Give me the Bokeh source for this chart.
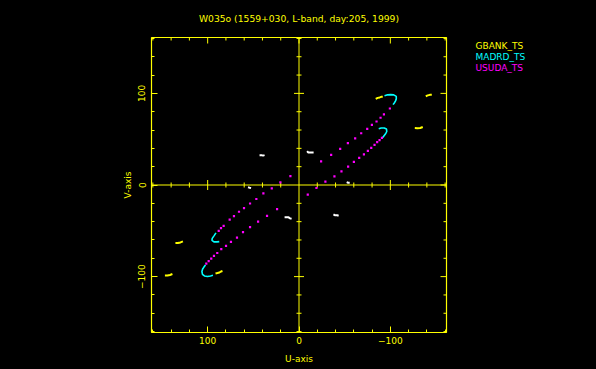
from math import pi
from bokeh.plotting import figure
from bokeh.layouts import row
from bokeh.models import (Range1d, FixedTicker, LinearAxis, Span,
                          GlobalInlineStyleSheet)
from bokeh.core.properties import value
from bokeh.embed import file_html
from bokeh.resources import INLINE

# ---------------- data ----------------
title_text = "W035o (1559+030, L-band, day:205, 1999)"
series_names = ["GBANK_TS", "MADRD_TS", "USUDA_TS"]
series_colors = ["#ffff00", "#00ffff", "#ff00ff"]
other_color = "#ffffff"

u_limit = 161.5
v_limit = 161.0
major_ticks = [-100, 0, 100]
minor_ticks = [-160, -140, -120, -80, -60, -40, -20, 20, 40, 60, 80, 120, 140, 160]
tick_labels = {100: "100", 0: "0", -100: "\u2212100"}

# USUDA_TS (magenta points)
usuda_u = [-99.5, -93.0, -89.3, -84.9, -79.8, -74.7, -68.1, -61.5, -53.5, -45.1, -35.2, -24.2,
           24.0, 35.0, 44.8, 53.6, 61.3, 67.9, 74.5, 79.9, 85.1, 89.5, 93.1, 96.1, 98.9, 101.5,
           -9.6, -19.1, -28.9, -38.8, -46.5, -53.8, -60.1, -65.9, -71.1, -75.4, -79.1, -82.7,
           -85.6, -88.2, -90.8,
           9.4, 20.4, 29.8, 39.0, 46.7, 53.6, 60.2, 65.7, 71.2, 75.9, 82.5, 85.4, 87.9]
usuda_v = [83.5, 77.0, 73.4, 69.3, 65.7, 61.3, 56.5, 51.0, 45.6, 39.4, 32.9, 25.8,
           -26.3, -33.6, -39.9, -46.0, -51.5, -57.4, -62.1, -66.5, -70.1, -74.2, -77.4, -80.4,
           -83.2, -85.9,
           -10.6, -3.3, 3.6, 9.4, 14.9, 20.0, 25.2, 29.6, 33.5, 37.2, 40.5, 43.8, 46.7, 48.9, 51.5,
           9.6, 2.8, -3.7, -9.2, -15.3, -20.2, -25.2, -29.2, -34.0, -37.7, -44.6, -47.1, -50.1]

# MADRD_TS (cyan tracks)
madrd_u = [[-93.6, -97.1, -100.4, -103.7, -106.5, -106.5, -105.7, -104.5, -103.0],
           [94.2, 96.9, 100.2, 103.5, 105.7, 106.3, 105.5, 104.1, 102.4],
           [-87.3, -90.0, -93.3, -95.8, -96.1, -95.0, -93.3, -91.7],
           [87.3, 89.8, 93.1, 95.3, 95.0, 93.1, 90.9]]
madrd_v = [[97.3, 98.4, 98.6, 98.4, 96.7, 94.0, 91.8, 89.8, 87.7],
           [-98.6, -99.3, -99.9, -99.3, -97.5, -94.4, -91.7, -89.6, -87.3],
           [61.3, 62.2, 62.2, 61.1, 58.4, 56.2, 54.0, 51.8],
           [-61.8, -62.1, -62.1, -60.5, -58.3, -55.5, -52.2]]

# GBANK_TS (yellow tracks)
gbank_u = [[-84.0, -86.2, -88.4, -90.0, -91.7],
           [-138.8, -141.0, -143.2, -145.4],
           [-126.8, -129.5, -132.8, -135.5],
           [91.4, 89.3, 87.1, 85.4, 83.8],
           [146.8, 144.1, 141.3, 138.6],
           [135.3, 132.6, 129.8, 127.1]]
gbank_v = [[94.0, 95.1, 95.6, 96.2, 96.2],
           [96.9, 97.8, 98.4, 98.4],
           [62.2, 62.0, 62.2, 63.3],
           [-96.6, -96.1, -95.5, -94.4, -93.9],
           [-98.8, -98.8, -98.2, -97.2],
           [-63.2, -63.2, -62.7, -61.6]]

# other baselines (white tracks, not in the key)
other_u = [[-8.9, -10.0, -12.2, -14.4, -16.0],
           [8.1, 9.8, 11.4, 13.6, 15.8],
           [43.2, 41.0, 39.4, 37.7],
           [-37.7, -39.6, -41.8, -43.4],
           [-52.2, -53.8, -55.5],
           [55.8, 54.2, 52.5]]
other_v = [[37.0, 35.6, 35.4, 35.4, 35.4],
           [-36.9, -36.4, -35.3, -35.3, -35.3],
           [32.6, 32.6, 32.1, 32.6],
           [-32.0, -33.1, -33.1, -33.6],
           [3.1, 2.5, 2.5],
           [-2.4, -2.9, -3.3]]

# ---------------- figure ----------------
YEL = "#ffff00"
BLK = "#000000"
FONT = "DejaVu Sans"
FS = "9px"

p = figure(width=460, height=369,
           x_range=Range1d(u_limit, -u_limit), y_range=Range1d(-v_limit, v_limit),
           x_axis_type=None, y_axis_type=None,
           output_backend="svg", toolbar_location=None,
           background_fill_color=BLK, border_fill_color=BLK,
           outline_line_color=YEL, outline_line_width=1.2,
           min_border_left=151, min_border_right=14,
           min_border_top=37, min_border_bottom=37)
p.stylesheets = [GlobalInlineStyleSheet(css="html, body { background-color: #000000; }")]

p.title.text = title_text
p.title.align = "center"
p.title.vertical_align = "top"
p.title.text_color = YEL
p.title.text_font = FONT
p.title.text_font_size = "9.2px"
p.title.text_font_style = "normal"
p.title.standoff = 24


def make_axis(label, orient, label_standoff, title_standoff):
    ax = LinearAxis(ticker=FixedTicker(ticks=major_ticks, minor_ticks=minor_ticks))
    ax.axis_line_color = None
    ax.major_tick_in = 6
    ax.major_tick_out = 0
    ax.minor_tick_in = 3
    ax.minor_tick_out = 0
    ax.major_tick_line_color = YEL
    ax.minor_tick_line_color = YEL
    ax.major_label_overrides = tick_labels
    ax.major_label_text_color = YEL
    ax.major_label_text_font = FONT
    ax.major_label_text_font_size = FS
    ax.major_label_orientation = orient
    ax.major_label_standoff = label_standoff
    ax.axis_label = label
    ax.axis_label_text_color = YEL
    ax.axis_label_text_font = FONT
    ax.axis_label_text_font_size = FS
    ax.axis_label_text_font_style = "normal"
    ax.axis_label_standoff = title_standoff
    return ax


p.add_layout(make_axis("U-axis", "horizontal", 4, 7), "below")
p.add_layout(make_axis("V-axis", "parallel", 6, 3), "left")

# ticks on the top and right edges of the box (half of each dash is clipped)
p.scatter(x=minor_ticks, y=[v_limit] * len(minor_ticks), marker="dash", angle=pi / 2,
          size=6, line_color=YEL)
p.scatter(x=major_ticks, y=[v_limit] * len(major_ticks), marker="dash", angle=pi / 2,
          size=12, line_color=YEL)
p.scatter(x=[-u_limit] * len(minor_ticks), y=minor_ticks, marker="dash",
          size=6, line_color=YEL)
p.scatter(x=[-u_limit] * len(major_ticks), y=major_ticks, marker="dash",
          size=12, line_color=YEL)

# zero lines with their ticks
p.add_layout(Span(location=0, dimension="height", line_color=YEL, line_width=1))
p.add_layout(Span(location=0, dimension="width", line_color=YEL, line_width=1))
zero_major = [t for t in major_ticks if t != 0]
p.scatter(x=[0] * len(minor_ticks), y=minor_ticks, marker="dash", size=5, line_color=YEL)
p.scatter(x=[0] * len(zero_major), y=zero_major, marker="dash", size=10, line_color=YEL)
p.scatter(x=minor_ticks, y=[0] * len(minor_ticks), marker="dash", angle=pi / 2, size=5,
          line_color=YEL)
p.scatter(x=zero_major, y=[0] * len(zero_major), marker="dash", angle=pi / 2, size=10,
          line_color=YEL)

# data
p.multi_line(xs=other_u, ys=other_v, line_color=other_color, line_width=2)
p.multi_line(xs=gbank_u, ys=gbank_v, line_color=series_colors[0], line_width=2)
p.multi_line(xs=madrd_u, ys=madrd_v, line_color=series_colors[1], line_width=1.6)
p.scatter(x=usuda_u, y=usuda_v, marker="square", size=2.2,
          fill_color=series_colors[2], line_color=None)

# key: coloured station names, drawn in a small side panel whose axes are page pixels
key = figure(width=136, height=369, x_range=Range1d(460, 596), y_range=Range1d(332, 37),
             x_axis_type=None, y_axis_type=None, output_backend="svg",
             toolbar_location=None, min_border_left=0, min_border_right=0,
             min_border_top=37, min_border_bottom=37,
             background_fill_color=BLK, border_fill_color=BLK, outline_line_color=None)
key.text(x=[475, 475, 475], y=[45.8, 56.4, 67.0], text=series_names, text_color=series_colors,
         text_font=value(FONT), text_font_size=value(FS), text_baseline="alphabetic",
         text_align="left")

layout = row(p, key)
open("out.html", "w").write(file_html(layout, INLINE))
